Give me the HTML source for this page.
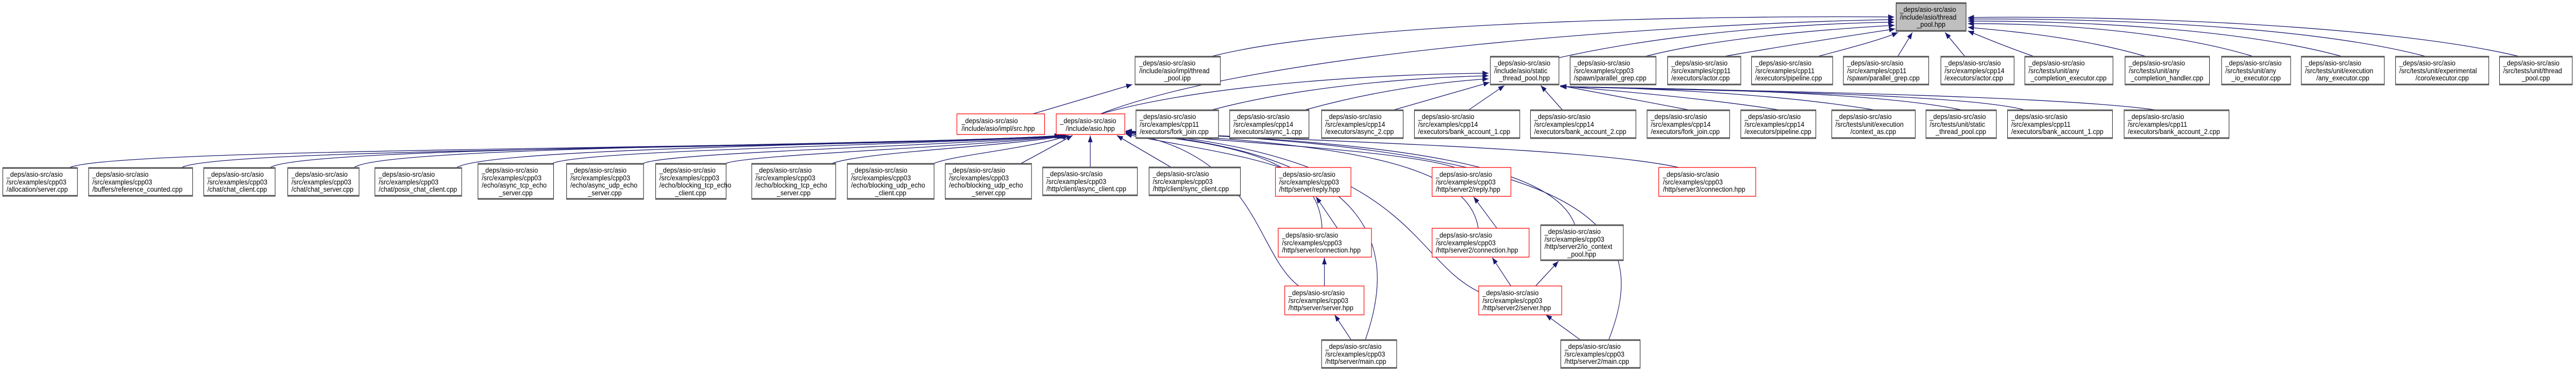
<!DOCTYPE html>
<html><head><meta charset="utf-8"><style>
html,body{margin:0;padding:0;background:#fff;width:100%;height:100%;overflow:hidden;}
svg{display:block;position:absolute;left:0;top:0;width:100vw;height:100vh;}
text{font-family:"Liberation Sans",sans-serif;font-size:14px;fill:#000;}
.n rect{fill:#fff;stroke:#000;stroke-width:1;}
.n line{stroke:#555;stroke-width:3;}
.r rect{fill:#fff;stroke:#f00;stroke-width:1.3;}
.g rect{fill:#bfbfbf;stroke:#000;stroke-width:1;}
.g line{stroke:#555;stroke-width:3;}
.e path{fill:none;stroke:#191970;stroke-width:1.3;}
</style></head><body>
<svg viewBox="0 0 5524 720" preserveAspectRatio="none" xmlns="http://www.w3.org/2000/svg">
<defs><marker id="a" markerUnits="userSpaceOnUse" markerWidth="14" markerHeight="10" refX="13" refY="5" orient="auto"><path d="M0,0 L13,5 L0,10 z" fill="#191970"/></marker></defs>

<g class="e">
<path d="M2600,109 C2900,40 3700,30 4062,33" marker-end="url(#a)"/>
<path d="M2360,221 C2700,100 3600,45 4062,38" marker-end="url(#a)"/>
<path d="M3343,112 C3600,60 3900,45 4062,43" marker-end="url(#a)"/>
<path d="M3530,109 C3700,70 3950,55 4063,49" marker-end="url(#a)"/>
<path d="M3700,109 C3850,85 4000,65 4064,56" marker-end="url(#a)"/>
<path d="M3900,109 C3980,90 4040,75 4070,63" marker-end="url(#a)"/>
<path d="M4070,109 L4101,63" marker-end="url(#a)"/>
<path d="M4213,109 L4171,63" marker-end="url(#a)"/>
<path d="M4360,109 C4300,90 4260,75 4220,60" marker-end="url(#a)"/>
<path d="M4600,109 C4450,70 4300,60 4220,53" marker-end="url(#a)"/>
<path d="M4830,109 C4650,60 4400,45 4220,46" marker-end="url(#a)"/>
<path d="M5020,109 C4800,55 4450,40 4220,41" marker-end="url(#a)"/>
<path d="M5200,109 C4950,50 4500,35 4220,37" marker-end="url(#a)"/>
<path d="M5400,109 C5100,45 4500,30 4220,34" marker-end="url(#a)"/>
<path d="M2360,221 C2600,160 3000,143 3192,142" marker-end="url(#a)"/>
<path d="M2600,213 C2800,165 3050,150 3192,147" marker-end="url(#a)"/>
<path d="M2800,213 C2950,175 3100,158 3192,153" marker-end="url(#a)"/>
<path d="M2990,213 L3194,160" marker-end="url(#a)"/>
<path d="M3150,213 L3226,166" marker-end="url(#a)"/>
<path d="M3350,213 L3304,166" marker-end="url(#a)"/>
<path d="M3620,213 L3346,166" marker-end="url(#a)"/>
<path d="M3813,213 C3650,190 3450,175 3346,167" marker-end="url(#a)"/>
<path d="M4017,213 C3800,180 3500,170 3346,168" marker-end="url(#a)"/>
<path d="M4205,213 C4000,175 3550,172 3346,168" marker-end="url(#a)"/>
<path d="M4340,213 C4200,180 3600,175 3346,168" marker-end="url(#a)"/>
<path d="M4620,213 C4400,185 3700,175 3346,168" marker-end="url(#a)"/>
<path d="M2215,221 L2428,164" marker-end="url(#a)"/>
<path d="M150,325 C250,285 1800,290 2274,263" marker-end="url(#a)"/>
<path d="M390,325 C470,285 1850,290 2276,263" marker-end="url(#a)"/>
<path d="M580,325 C650,283 1900,285 2278,263" marker-end="url(#a)"/>
<path d="M760,325 C820,282 1950,282 2280,263" marker-end="url(#a)"/>
<path d="M980,325 C1050,285 2000,280 2282,263" marker-end="url(#a)"/>
<path d="M1185,317 C1250,290 2050,280 2284,263" marker-end="url(#a)"/>
<path d="M1380,317 C1430,295 2080,282 2286,263" marker-end="url(#a)"/>
<path d="M1557,317 C1600,300 2100,285 2288,263" marker-end="url(#a)"/>
<path d="M1785,317 C1850,295 2150,285 2290,263" marker-end="url(#a)"/>
<path d="M2003,317 C2050,300 2200,290 2292,263" marker-end="url(#a)"/>
<path d="M2190,317 L2300,263" marker-end="url(#a)"/>
<path d="M2338,324 L2338,263" marker-end="url(#a)"/>
<path d="M2510,324 L2395,263" marker-end="url(#a)"/>
<path d="M2745,325 C2650,295 2480,275 2414,260" marker-end="url(#a)"/>
<path d="M2835,443 C2830,330 2700,280 2414,259" marker-end="url(#a)"/>
<path d="M2785,555 C2690,490 2700,300 2414,258" marker-end="url(#a)"/>
<path d="M2928,659 C2990,500 2980,300 2414,257" marker-end="url(#a)"/>
<path d="M3170,443 C3150,320 2900,280 2414,257" marker-end="url(#a)"/>
<path d="M3171,566 C3020,500 3030,300 2414,256" marker-end="url(#a)"/>
<path d="M3377,436 C3330,320 3000,275 2414,256" marker-end="url(#a)"/>
<path d="M3450,659 C3540,450 3450,290 2414,255" marker-end="url(#a)"/>
<path d="M3600,325 C3400,285 2800,275 2414,254" marker-end="url(#a)"/>
<path d="M3120,325 C3000,290 2600,275 2414,255" marker-end="url(#a)"/>
<path d="M2868,443 L2822,382" marker-end="url(#a)"/>
<path d="M3210,443 L3160,382" marker-end="url(#a)"/>
<path d="M2840,555 L2840,500" marker-end="url(#a)"/>
<path d="M2897,659 L2862,611" marker-end="url(#a)"/>
<path d="M3240,555 L3200,500" marker-end="url(#a)"/>
<path d="M3293,555 L3342,507" marker-end="url(#a)"/>
<path d="M3388,659 L3315,611" marker-end="url(#a)"/>
</g>

<g class="g"><rect x="4066" y="5" width="150" height="56"/><line x1="4066" y1="6" x2="4216" y2="6"/><line x1="4066" y1="60" x2="4216" y2="60"/>
<text x="4074" y="23">_deps/asio-src/asio</text><text x="4074" y="38">/include/asio/thread</text><text x="4141" y="52" text-anchor="middle">_pool.hpp</text></g>

<g class="n"><rect x="2434" y="109" width="183" height="56"/><line x1="2434" y1="110" x2="2617" y2="110"/><line x1="2434" y1="164" x2="2617" y2="164"/>
<text x="2443" y="127">_deps/asio-src/asio</text><text x="2443" y="142">/include/asio/impl/thread</text><text x="2525" y="156" text-anchor="middle">_pool.ipp</text></g>
<g class="n"><rect x="3196" y="109" width="147" height="56"/><line x1="3196" y1="110" x2="3343" y2="110"/><line x1="3196" y1="164" x2="3343" y2="164"/>
<text x="3204" y="127">_deps/asio-src/asio</text><text x="3204" y="142">/include/asio/static</text><text x="3269" y="156" text-anchor="middle">_thread_pool.hpp</text></g>
<g class="n"><rect x="3367" y="109" width="184" height="56"/><line x1="3367" y1="110" x2="3551" y2="110"/><line x1="3367" y1="164" x2="3551" y2="164"/>
<text x="3375" y="127">_deps/asio-src/asio</text><text x="3375" y="142">/src/examples/cpp03</text><text x="3375" y="156">/spawn/parallel_grep.cpp</text></g>
<g class="n"><rect x="3576" y="109" width="157" height="56"/><line x1="3576" y1="110" x2="3733" y2="110"/><line x1="3576" y1="164" x2="3733" y2="164"/>
<text x="3584" y="127">_deps/asio-src/asio</text><text x="3584" y="142">/src/examples/cpp11</text><text x="3584" y="156">/executors/actor.cpp</text></g>
<g class="n"><rect x="3756" y="109" width="174" height="56"/><line x1="3756" y1="110" x2="3930" y2="110"/><line x1="3756" y1="164" x2="3930" y2="164"/>
<text x="3764" y="127">_deps/asio-src/asio</text><text x="3764" y="142">/src/examples/cpp11</text><text x="3764" y="156">/executors/pipeline.cpp</text></g>
<g class="n"><rect x="3953" y="109" width="183" height="56"/><line x1="3953" y1="110" x2="4136" y2="110"/><line x1="3953" y1="164" x2="4136" y2="164"/>
<text x="3961" y="127">_deps/asio-src/asio</text><text x="3961" y="142">/src/examples/cpp11</text><text x="3961" y="156">/spawn/parallel_grep.cpp</text></g>
<g class="n"><rect x="4162" y="109" width="157" height="56"/><line x1="4162" y1="110" x2="4319" y2="110"/><line x1="4162" y1="164" x2="4319" y2="164"/>
<text x="4170" y="127">_deps/asio-src/asio</text><text x="4170" y="142">/src/examples/cpp14</text><text x="4170" y="156">/executors/actor.cpp</text></g>
<g class="n"><rect x="4342" y="109" width="189" height="56"/><line x1="4342" y1="110" x2="4531" y2="110"/><line x1="4342" y1="164" x2="4531" y2="164"/>
<text x="4350" y="127">_deps/asio-src/asio</text><text x="4350" y="142">/src/tests/unit/any</text><text x="4436" y="156" text-anchor="middle">_completion_executor.cpp</text></g>
<g class="n"><rect x="4557" y="109" width="181" height="56"/><line x1="4557" y1="110" x2="4738" y2="110"/><line x1="4557" y1="164" x2="4738" y2="164"/>
<text x="4565" y="127">_deps/asio-src/asio</text><text x="4565" y="142">/src/tests/unit/any</text><text x="4647" y="156" text-anchor="middle">_completion_handler.cpp</text></g>
<g class="n"><rect x="4764" y="109" width="148" height="56"/><line x1="4764" y1="110" x2="4912" y2="110"/><line x1="4764" y1="164" x2="4912" y2="164"/>
<text x="4772" y="127">_deps/asio-src/asio</text><text x="4772" y="142">/src/tests/unit/any</text><text x="4838" y="156" text-anchor="middle">_io_executor.cpp</text></g>
<g class="n"><rect x="4935" y="109" width="178" height="56"/><line x1="4935" y1="110" x2="5113" y2="110"/><line x1="4935" y1="164" x2="5113" y2="164"/>
<text x="4943" y="127">_deps/asio-src/asio</text><text x="4943" y="142">/src/tests/unit/execution</text><text x="5024" y="156" text-anchor="middle">/any_executor.cpp</text></g>
<g class="n"><rect x="5137" y="109" width="200" height="56"/><line x1="5137" y1="110" x2="5337" y2="110"/><line x1="5137" y1="164" x2="5337" y2="164"/>
<text x="5145" y="127">_deps/asio-src/asio</text><text x="5145" y="142">/src/tests/unit/experimental</text><text x="5237" y="156" text-anchor="middle">/coro/executor.cpp</text></g>
<g class="n"><rect x="5360" y="109" width="156" height="56"/><line x1="5360" y1="110" x2="5516" y2="110"/><line x1="5360" y1="164" x2="5516" y2="164"/>
<text x="5368" y="127">_deps/asio-src/asio</text><text x="5368" y="142">/src/tests/unit/thread</text><text x="5438" y="156" text-anchor="middle">_pool.cpp</text></g>

<g class="r"><rect x="2052" y="221" width="188" height="40"/>
<text x="2062" y="239">_deps/asio-src/asio</text><text x="2062" y="254">/include/asio/impl/src.hpp</text></g>
<g class="r"><rect x="2265" y="221" width="147" height="40"/>
<text x="2273" y="239">_deps/asio-src/asio</text><text x="2338" y="254" text-anchor="middle">/include/asio.hpp</text></g>
<g class="n"><rect x="2436" y="213" width="177" height="56"/><line x1="2436" y1="214" x2="2613" y2="214"/><line x1="2436" y1="268" x2="2613" y2="268"/>
<text x="2444" y="231">_deps/asio-src/asio</text><text x="2444" y="246">/src/examples/cpp11</text><text x="2444" y="260">/executors/fork_join.cpp</text></g>
<g class="n"><rect x="2637" y="213" width="170" height="56"/><line x1="2637" y1="214" x2="2807" y2="214"/><line x1="2637" y1="268" x2="2807" y2="268"/>
<text x="2645" y="231">_deps/asio-src/asio</text><text x="2645" y="246">/src/examples/cpp14</text><text x="2645" y="260">/executors/async_1.cpp</text></g>
<g class="n"><rect x="2834" y="213" width="175" height="56"/><line x1="2834" y1="214" x2="3009" y2="214"/><line x1="2834" y1="268" x2="3009" y2="268"/>
<text x="2842" y="231">_deps/asio-src/asio</text><text x="2842" y="246">/src/examples/cpp14</text><text x="2842" y="260">/executors/async_2.cpp</text></g>
<g class="n"><rect x="3033" y="213" width="226" height="56"/><line x1="3033" y1="214" x2="3259" y2="214"/><line x1="3033" y1="268" x2="3259" y2="268"/>
<text x="3041" y="231">_deps/asio-src/asio</text><text x="3041" y="246">/src/examples/cpp14</text><text x="3041" y="260">/executors/bank_account_1.cpp</text></g>
<g class="n"><rect x="3282" y="213" width="226" height="56"/><line x1="3282" y1="214" x2="3508" y2="214"/><line x1="3282" y1="268" x2="3508" y2="268"/>
<text x="3290" y="231">_deps/asio-src/asio</text><text x="3290" y="246">/src/examples/cpp14</text><text x="3290" y="260">/executors/bank_account_2.cpp</text></g>
<g class="n"><rect x="3532" y="213" width="177" height="56"/><line x1="3532" y1="214" x2="3709" y2="214"/><line x1="3532" y1="268" x2="3709" y2="268"/>
<text x="3540" y="231">_deps/asio-src/asio</text><text x="3540" y="246">/src/examples/cpp14</text><text x="3540" y="260">/executors/fork_join.cpp</text></g>
<g class="n"><rect x="3733" y="213" width="161" height="56"/><line x1="3733" y1="214" x2="3894" y2="214"/><line x1="3733" y1="268" x2="3894" y2="268"/>
<text x="3741" y="231">_deps/asio-src/asio</text><text x="3741" y="246">/src/examples/cpp14</text><text x="3741" y="260">/executors/pipeline.cpp</text></g>
<g class="n"><rect x="3928" y="213" width="179" height="56"/><line x1="3928" y1="214" x2="4107" y2="214"/><line x1="3928" y1="268" x2="4107" y2="268"/>
<text x="3936" y="231">_deps/asio-src/asio</text><text x="3936" y="246">/src/tests/unit/execution</text><text x="4017" y="260" text-anchor="middle">/context_as.cpp</text></g>
<g class="n"><rect x="4130" y="213" width="151" height="56"/><line x1="4130" y1="214" x2="4281" y2="214"/><line x1="4130" y1="268" x2="4281" y2="268"/>
<text x="4138" y="231">_deps/asio-src/asio</text><text x="4138" y="246">/src/tests/unit/static</text><text x="4205" y="260" text-anchor="middle">_thread_pool.cpp</text></g>
<g class="n"><rect x="4305" y="213" width="225" height="56"/><line x1="4305" y1="214" x2="4530" y2="214"/><line x1="4305" y1="268" x2="4530" y2="268"/>
<text x="4313" y="231">_deps/asio-src/asio</text><text x="4313" y="246">/src/examples/cpp11</text><text x="4313" y="260">/executors/bank_account_1.cpp</text></g>
<g class="n"><rect x="4555" y="213" width="225" height="56"/><line x1="4555" y1="214" x2="4780" y2="214"/><line x1="4555" y1="268" x2="4780" y2="268"/>
<text x="4563" y="231">_deps/asio-src/asio</text><text x="4563" y="246">/src/examples/cpp11</text><text x="4563" y="260">/executors/bank_account_2.cpp</text></g>

<g class="n"><rect x="6" y="325" width="160" height="56"/><line x1="6" y1="326" x2="166" y2="326"/><line x1="6" y1="380" x2="166" y2="380"/>
<text x="14" y="343">_deps/asio-src/asio</text><text x="14" y="358">/src/examples/cpp03</text><text x="14" y="372">/allocation/server.cpp</text></g>
<g class="n"><rect x="190" y="325" width="223" height="56"/><line x1="190" y1="326" x2="413" y2="326"/><line x1="190" y1="380" x2="413" y2="380"/>
<text x="198" y="343">_deps/asio-src/asio</text><text x="198" y="358">/src/examples/cpp03</text><text x="198" y="372">/buffers/reference_counted.cpp</text></g>
<g class="n"><rect x="437" y="325" width="153" height="56"/><line x1="437" y1="326" x2="590" y2="326"/><line x1="437" y1="380" x2="590" y2="380"/>
<text x="445" y="343">_deps/asio-src/asio</text><text x="445" y="358">/src/examples/cpp03</text><text x="445" y="372">/chat/chat_client.cpp</text></g>
<g class="n"><rect x="617" y="325" width="153" height="56"/><line x1="617" y1="326" x2="770" y2="326"/><line x1="617" y1="380" x2="770" y2="380"/>
<text x="625" y="343">_deps/asio-src/asio</text><text x="625" y="358">/src/examples/cpp03</text><text x="625" y="372">/chat/chat_server.cpp</text></g>
<g class="n"><rect x="804" y="325" width="186" height="56"/><line x1="804" y1="326" x2="990" y2="326"/><line x1="804" y1="380" x2="990" y2="380"/>
<text x="812" y="343">_deps/asio-src/asio</text><text x="812" y="358">/src/examples/cpp03</text><text x="812" y="372">/chat/posix_chat_client.cpp</text></g>
<g class="n"><rect x="1025" y="317" width="162" height="70"/><line x1="1025" y1="318" x2="1187" y2="318"/><line x1="1025" y1="386" x2="1187" y2="386"/>
<text x="1033" y="335">_deps/asio-src/asio</text><text x="1033" y="350">/src/examples/cpp03</text><text x="1033" y="364">/echo/async_tcp_echo</text><text x="1106" y="379" text-anchor="middle">_server.cpp</text></g>
<g class="n"><rect x="1215" y="317" width="165" height="70"/><line x1="1215" y1="318" x2="1380" y2="318"/><line x1="1215" y1="386" x2="1380" y2="386"/>
<text x="1223" y="335">_deps/asio-src/asio</text><text x="1223" y="350">/src/examples/cpp03</text><text x="1223" y="364">/echo/async_udp_echo</text><text x="1297" y="379" text-anchor="middle">_server.cpp</text></g>
<g class="n"><rect x="1406" y="317" width="151" height="70"/><line x1="1406" y1="318" x2="1557" y2="318"/><line x1="1406" y1="386" x2="1557" y2="386"/>
<text x="1414" y="335">_deps/asio-src/asio</text><text x="1414" y="350">/src/examples/cpp03</text><text x="1414" y="364">/echo/blocking_tcp_echo</text><text x="1481" y="379" text-anchor="middle">_client.cpp</text></g>
<g class="n"><rect x="1612" y="317" width="180" height="70"/><line x1="1612" y1="318" x2="1792" y2="318"/><line x1="1612" y1="386" x2="1792" y2="386"/>
<text x="1620" y="335">_deps/asio-src/asio</text><text x="1620" y="350">/src/examples/cpp03</text><text x="1620" y="364">/echo/blocking_tcp_echo</text><text x="1702" y="379" text-anchor="middle">_server.cpp</text></g>
<g class="n"><rect x="1817" y="317" width="186" height="70"/><line x1="1817" y1="318" x2="2003" y2="318"/><line x1="1817" y1="386" x2="2003" y2="386"/>
<text x="1825" y="335">_deps/asio-src/asio</text><text x="1825" y="350">/src/examples/cpp03</text><text x="1825" y="364">/echo/blocking_udp_echo</text><text x="1910" y="379" text-anchor="middle">_client.cpp</text></g>
<g class="n"><rect x="2027" y="317" width="185" height="70"/><line x1="2027" y1="318" x2="2212" y2="318"/><line x1="2027" y1="386" x2="2212" y2="386"/>
<text x="2035" y="335">_deps/asio-src/asio</text><text x="2035" y="350">/src/examples/cpp03</text><text x="2035" y="364">/echo/blocking_udp_echo</text><text x="2120" y="379" text-anchor="middle">_server.cpp</text></g>
<g class="n"><rect x="2236" y="324" width="203" height="56"/><line x1="2236" y1="325" x2="2439" y2="325"/><line x1="2236" y1="379" x2="2439" y2="379"/>
<text x="2244" y="342">_deps/asio-src/asio</text><text x="2244" y="357">/src/examples/cpp03</text><text x="2244" y="371">/http/client/async_client.cpp</text></g>
<g class="n"><rect x="2464" y="324" width="196" height="56"/><line x1="2464" y1="325" x2="2660" y2="325"/><line x1="2464" y1="379" x2="2660" y2="379"/>
<text x="2472" y="342">_deps/asio-src/asio</text><text x="2472" y="357">/src/examples/cpp03</text><text x="2472" y="371">/http/client/sync_client.cpp</text></g>
<g class="r"><rect x="2735" y="325" width="162" height="56"/>
<text x="2743" y="343">_deps/asio-src/asio</text><text x="2743" y="358">/src/examples/cpp03</text><text x="2743" y="372">/http/server/reply.hpp</text></g>
<g class="r"><rect x="3071" y="325" width="169" height="56"/>
<text x="3079" y="343">_deps/asio-src/asio</text><text x="3079" y="358">/src/examples/cpp03</text><text x="3079" y="372">/http/server2/reply.hpp</text></g>
<g class="r"><rect x="3557" y="325" width="208" height="56"/>
<text x="3566" y="343">_deps/asio-src/asio</text><text x="3566" y="358">/src/examples/cpp03</text><text x="3566" y="372">/http/server3/connection.hpp</text></g>

<g class="r"><rect x="2741" y="443" width="200" height="56"/>
<text x="2749" y="461">_deps/asio-src/asio</text><text x="2749" y="476">/src/examples/cpp03</text><text x="2749" y="490">/http/server/connection.hpp</text></g>
<g class="r"><rect x="3071" y="443" width="208" height="56"/>
<text x="3079" y="461">_deps/asio-src/asio</text><text x="3079" y="476">/src/examples/cpp03</text><text x="3079" y="490">/http/server2/connection.hpp</text></g>
<g class="n"><rect x="3304" y="436" width="177" height="70"/><line x1="3304" y1="437" x2="3481" y2="437"/><line x1="3304" y1="505" x2="3481" y2="505"/>
<text x="3312" y="454">_deps/asio-src/asio</text><text x="3312" y="469">/src/examples/cpp03</text><text x="3312" y="483">/http/server2/io_context</text><text x="3392" y="498" text-anchor="middle">_pool.hpp</text></g>

<g class="r"><rect x="2755" y="555" width="170" height="56"/>
<text x="2763" y="573">_deps/asio-src/asio</text><text x="2763" y="588">/src/examples/cpp03</text><text x="2763" y="602">/http/server/server.hpp</text></g>
<g class="r"><rect x="3171" y="555" width="178" height="56"/>
<text x="3179" y="573">_deps/asio-src/asio</text><text x="3179" y="588">/src/examples/cpp03</text><text x="3179" y="602">/http/server2/server.hpp</text></g>

<g class="n"><rect x="2834" y="659" width="161" height="56"/><line x1="2834" y1="660" x2="2995" y2="660"/><line x1="2834" y1="714" x2="2995" y2="714"/>
<text x="2842" y="677">_deps/asio-src/asio</text><text x="2842" y="692">/src/examples/cpp03</text><text x="2842" y="706">/http/server/main.cpp</text></g>
<g class="n"><rect x="3347" y="659" width="170" height="56"/><line x1="3347" y1="660" x2="3517" y2="660"/><line x1="3347" y1="714" x2="3517" y2="714"/>
<text x="3355" y="677">_deps/asio-src/asio</text><text x="3355" y="692">/src/examples/cpp03</text><text x="3355" y="706">/http/server2/main.cpp</text></g>
</svg>
</body></html>
